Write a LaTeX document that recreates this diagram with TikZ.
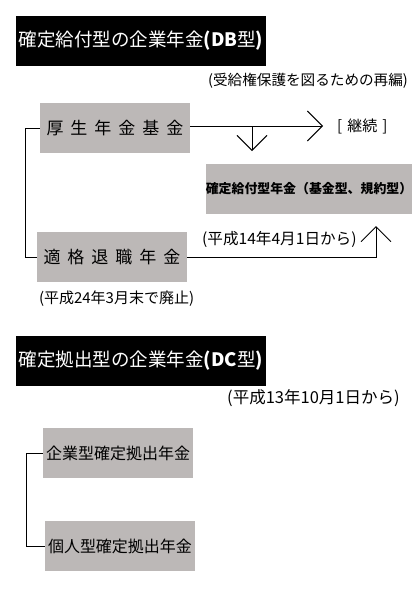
\documentclass[tikz,border=0pt]{standalone}
\usepackage{fontspec}
\setmainfont{Noto Sans CJK JP}
\usetikzlibrary{arrows.meta,positioning}
\definecolor{boxgray}{RGB}{188,184,183}
\newcommand{\wsp}{\hspace{7pt}}

\begin{document}
\begin{tikzpicture}[x=1pt, y=-1pt, sharp corners,
     ttl/.style={fill=black, text=white, minimum width=250pt, minimum height=50pt, inner sep=0pt, font=\fontsize{18.5}{20}\selectfont},
     gbox/.style={fill=boxgray, minimum width=150pt, minimum height=50pt, inner sep=0pt, font=\fontsize{17}{19}\selectfont},
     note/.style={inner sep=0pt, anchor=west, font=\fontsize{15}{17}\selectfont},
     ln/.style={draw=black, line width=0.9pt},
     arr/.style={ln, -{Straight Barb[length=15pt, width=30pt]}}]
   \useasboundingbox (0,0) rectangle (412,600);
   % DB
   \node[ttl] (dbttl) at (141,41) {確定給付型の企業年金\textbf{(DB}型\textbf{)}};
   \node[note, font=\fontsize{14.6}{17}\selectfont] (dbnote) at (208,81) {(受給権保護を図るための再編)};
   \node[gbox] (kousei) at (115,128) {厚\wsp 生\wsp 年\wsp 金\wsp 基\wsp 金};
   \node[gbox] (tekikaku) at (112,257) {適\wsp 格\wsp 退\wsp 職\wsp 年\wsp 金};
   \node[gbox, minimum width=200pt, font=\fontsize{12.9}{14}\bfseries] (kakutei) at (309,189) {確定給付型年金（基金型、規約型）};
   \node[note] (keizoku) at (337,126) {[\hspace{5pt}継続\hspace{5pt}]};
   \node[note, font=\fontsize{15.6}{17}\selectfont] (from14) at (202,239) {(平成14年4月1日から)};
   \node[note, below=8pt of tekikaku.south west, anchor=north west, xshift=2pt] (end24) {(平成24年3月末で廃止)};
   \coordinate (tipR) at (323,126);
   \coordinate (split) at (252,126);
   \coordinate (tipD) at (252,151);
   \coordinate (tipU) at (376,226);
   \draw[arr] (kousei.east |- tipR) -- (tipR);
   \draw[arr] (split) -- (tipD);
   \draw[arr] (tekikaku.east) -| (tipU);
   \draw[ln] (kousei.west) -- ++(-14,0) |- (tekikaku.west);
   % DC
   \node[ttl] (dcttl) at (141,361) {確定拠出型の企業年金\textbf{(DC}型\textbf{)}};
   \node[note, font=\fontsize{16.5}{18}\selectfont] (from13) at (227,398) {(平成13年10月1日から)};
   \node[gbox, font=\fontsize{16}{18}\selectfont] (kigyo) at (118,453) {企業型確定拠出年金};
   \node[gbox, font=\fontsize{16}{18}\selectfont] (kojin) at (120,546) {個人型確定拠出年金};
   \draw[ln] (kigyo.west) -- ++(-16,0) |- (kojin.west);
\end{tikzpicture}
\end{document}
